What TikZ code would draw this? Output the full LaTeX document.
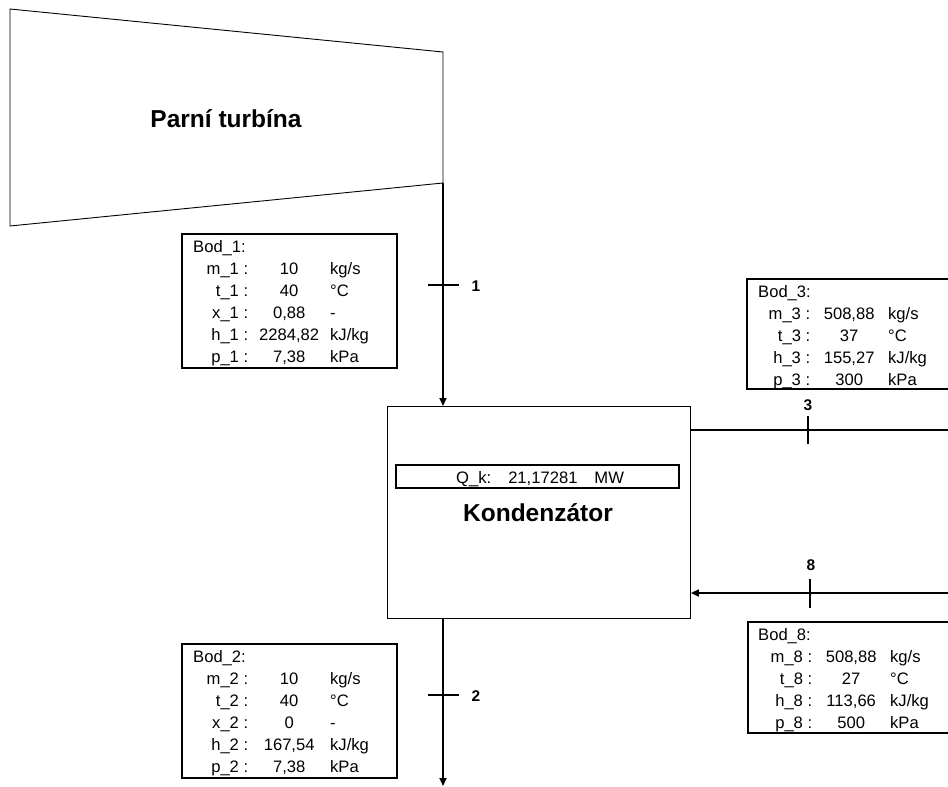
\documentclass[tikz,border=0pt]{standalone}
\usepackage{fontspec}
\setmainfont{Liberation Sans}
\usepackage{array}
\usetikzlibrary{arrows.meta}
\newcolumntype{R}[1]{>{\raggedleft\arraybackslash}p{#1}}
\newcolumntype{C}[1]{>{\centering\arraybackslash}p{#1}}
\newcolumntype{L}[1]{>{\raggedright\arraybackslash}p{#1}}
\begin{document}
\begin{tikzpicture}[x=1pt,y=-1pt,
  pipe/.style={line width=1.8pt},
  tick/.style={line width=1.8pt},
  arr/.style={-{Triangle[length=8pt,width=7pt]}},
  dbox/.style={draw, line width=1.8pt, anchor=north west, inner sep=0pt},
  dtext/.style={anchor=base west, inner sep=0pt, font=\fontsize{16.6}{22}\selectfont},
  title/.style={anchor=base, inner sep=0pt, font=\bfseries\fontsize{24.5}{28}\selectfont},
  num/.style={inner sep=0pt, font=\bfseries\fontsize{15.5}{17}\selectfont}]
\useasboundingbox (0,0) rectangle (948,787);

% turbine
\draw[line width=0.9pt] (10,9) -- (443,52) -- (443,183) -- (10,226) -- cycle;
\coordinate (tout) at (443,183);
\node[title] (turb) at (226,127.5) {Parní turbína};

% condenser
\node[draw, line width=0.9pt, anchor=north west, inner sep=0pt,
      minimum width=303pt, minimum height=212pt] (cond) at (387,406) {};
\node[draw, line width=1.8pt, anchor=north west, inner sep=0pt,
      minimum width=283pt, minimum height=23pt] (qbox) at (395,464) {};
\node[dtext] (qk) at (456,483) {Q\_k:\hspace{17pt}21,17281\hspace{17pt}MW};
\node[title] (kond) at (538,521) {Kondenzátor};

% pipe 1
\draw[pipe,arr] (tout) -- (tout |- cond.north);
\coordinate (t1) at (443,285);
\draw[tick] ([xshift=-15pt]t1) -- ([xshift=16pt]t1);
\node[num] (n1) at (476,286) {1};

% pipe 2
\coordinate (out2) at (443,786);
\draw[pipe,arr] (cond.south -| tout) -- (out2);
\coordinate (t2) at (443,695);
\draw[tick] ([xshift=-15pt]t2) -- ([xshift=16pt]t2);
\node[num] (n2) at (476,696) {2};

% pipe 3
\coordinate (e3) at (960,430);
\draw[pipe] (cond.east |- e3) -- (e3);
\coordinate (t3) at (808,430);
\draw[tick] ([yshift=-14pt]t3) -- ([yshift=14pt]t3);
\node[num] (n3) at (808,405) {3};

% pipe 8
\coordinate (e8) at (960,593);
\draw[pipe,arr] (e8) -- (cond.east |- e8);
\coordinate (t8) at (810,593);
\draw[tick] ([yshift=-15pt]t8) -- ([yshift=14pt]t8);
\node[num] (n8) at (811,565) {8};

% box 1
\node[dbox, minimum width=215pt, minimum height=134pt] (b1) at (181,233) {};
\begin{scope}
\clip (b1.north west) rectangle (b1.south east);
\node[dtext] (b1t) at (193,252.5) {\begin{tabular}[t]{@{}R{55pt}@{}C{82pt}@{}L{60pt}@{}}
\multicolumn{3}{@{}l@{}}{Bod\_1:}\\
m\_1 :& 10 & kg/s\\
t\_1 :& 40 & °C\\
x\_1 :& 0,88 & -\\
h\_1 :& 2284,82 & kJ/kg\\
p\_1 :& 7,38 & kPa
\end{tabular}};
\end{scope}

% box 2
\node[dbox, minimum width=215pt, minimum height=134pt] (b2) at (181,643) {};
\begin{scope}
\clip (b2.north west) rectangle (b2.south east);
\node[dtext] (b2t) at (193,662.5) {\begin{tabular}[t]{@{}R{55pt}@{}C{82pt}@{}L{60pt}@{}}
\multicolumn{3}{@{}l@{}}{Bod\_2:}\\
m\_2 :& 10 & kg/s\\
t\_2 :& 40 & °C\\
x\_2 :& 0 & -\\
h\_2 :& 167,54 & kJ/kg\\
p\_2 :& 7,38 & kPa
\end{tabular}};
\end{scope}

% box 3
\node[dbox, minimum width=220pt, minimum height=110pt] (b3) at (746,278) {};
\begin{scope}
\clip (b3.north west) rectangle (b3.south east);
\node[dtext] (b3t) at (758,297.5) {\begin{tabular}[t]{@{}R{52pt}@{}C{78pt}@{}L{60pt}@{}}
\multicolumn{3}{@{}l@{}}{Bod\_3:}\\
m\_3 :& 508,88 & kg/s\\
t\_3 :& 37 & °C\\
h\_3 :& 155,27 & kJ/kg\\
p\_3 :& 300 & kPa
\end{tabular}};
\end{scope}

% box 8
\node[dbox, minimum width=220pt, minimum height=111pt] (b8) at (747,621) {};
\begin{scope}
\clip (b8.north west) rectangle (b8.south east);
\node[dtext] (b8t) at (758,640) {\begin{tabular}[t]{@{}R{54pt}@{}C{78pt}@{}L{60pt}@{}}
\multicolumn{3}{@{}l@{}}{Bod\_8:}\\
m\_8 :& 508,88 & kg/s\\
t\_8 :& 27 & °C\\
h\_8 :& 113,66 & kJ/kg\\
p\_8 :& 500 & kPa
\end{tabular}};
\end{scope}
\end{tikzpicture}
\end{document}
